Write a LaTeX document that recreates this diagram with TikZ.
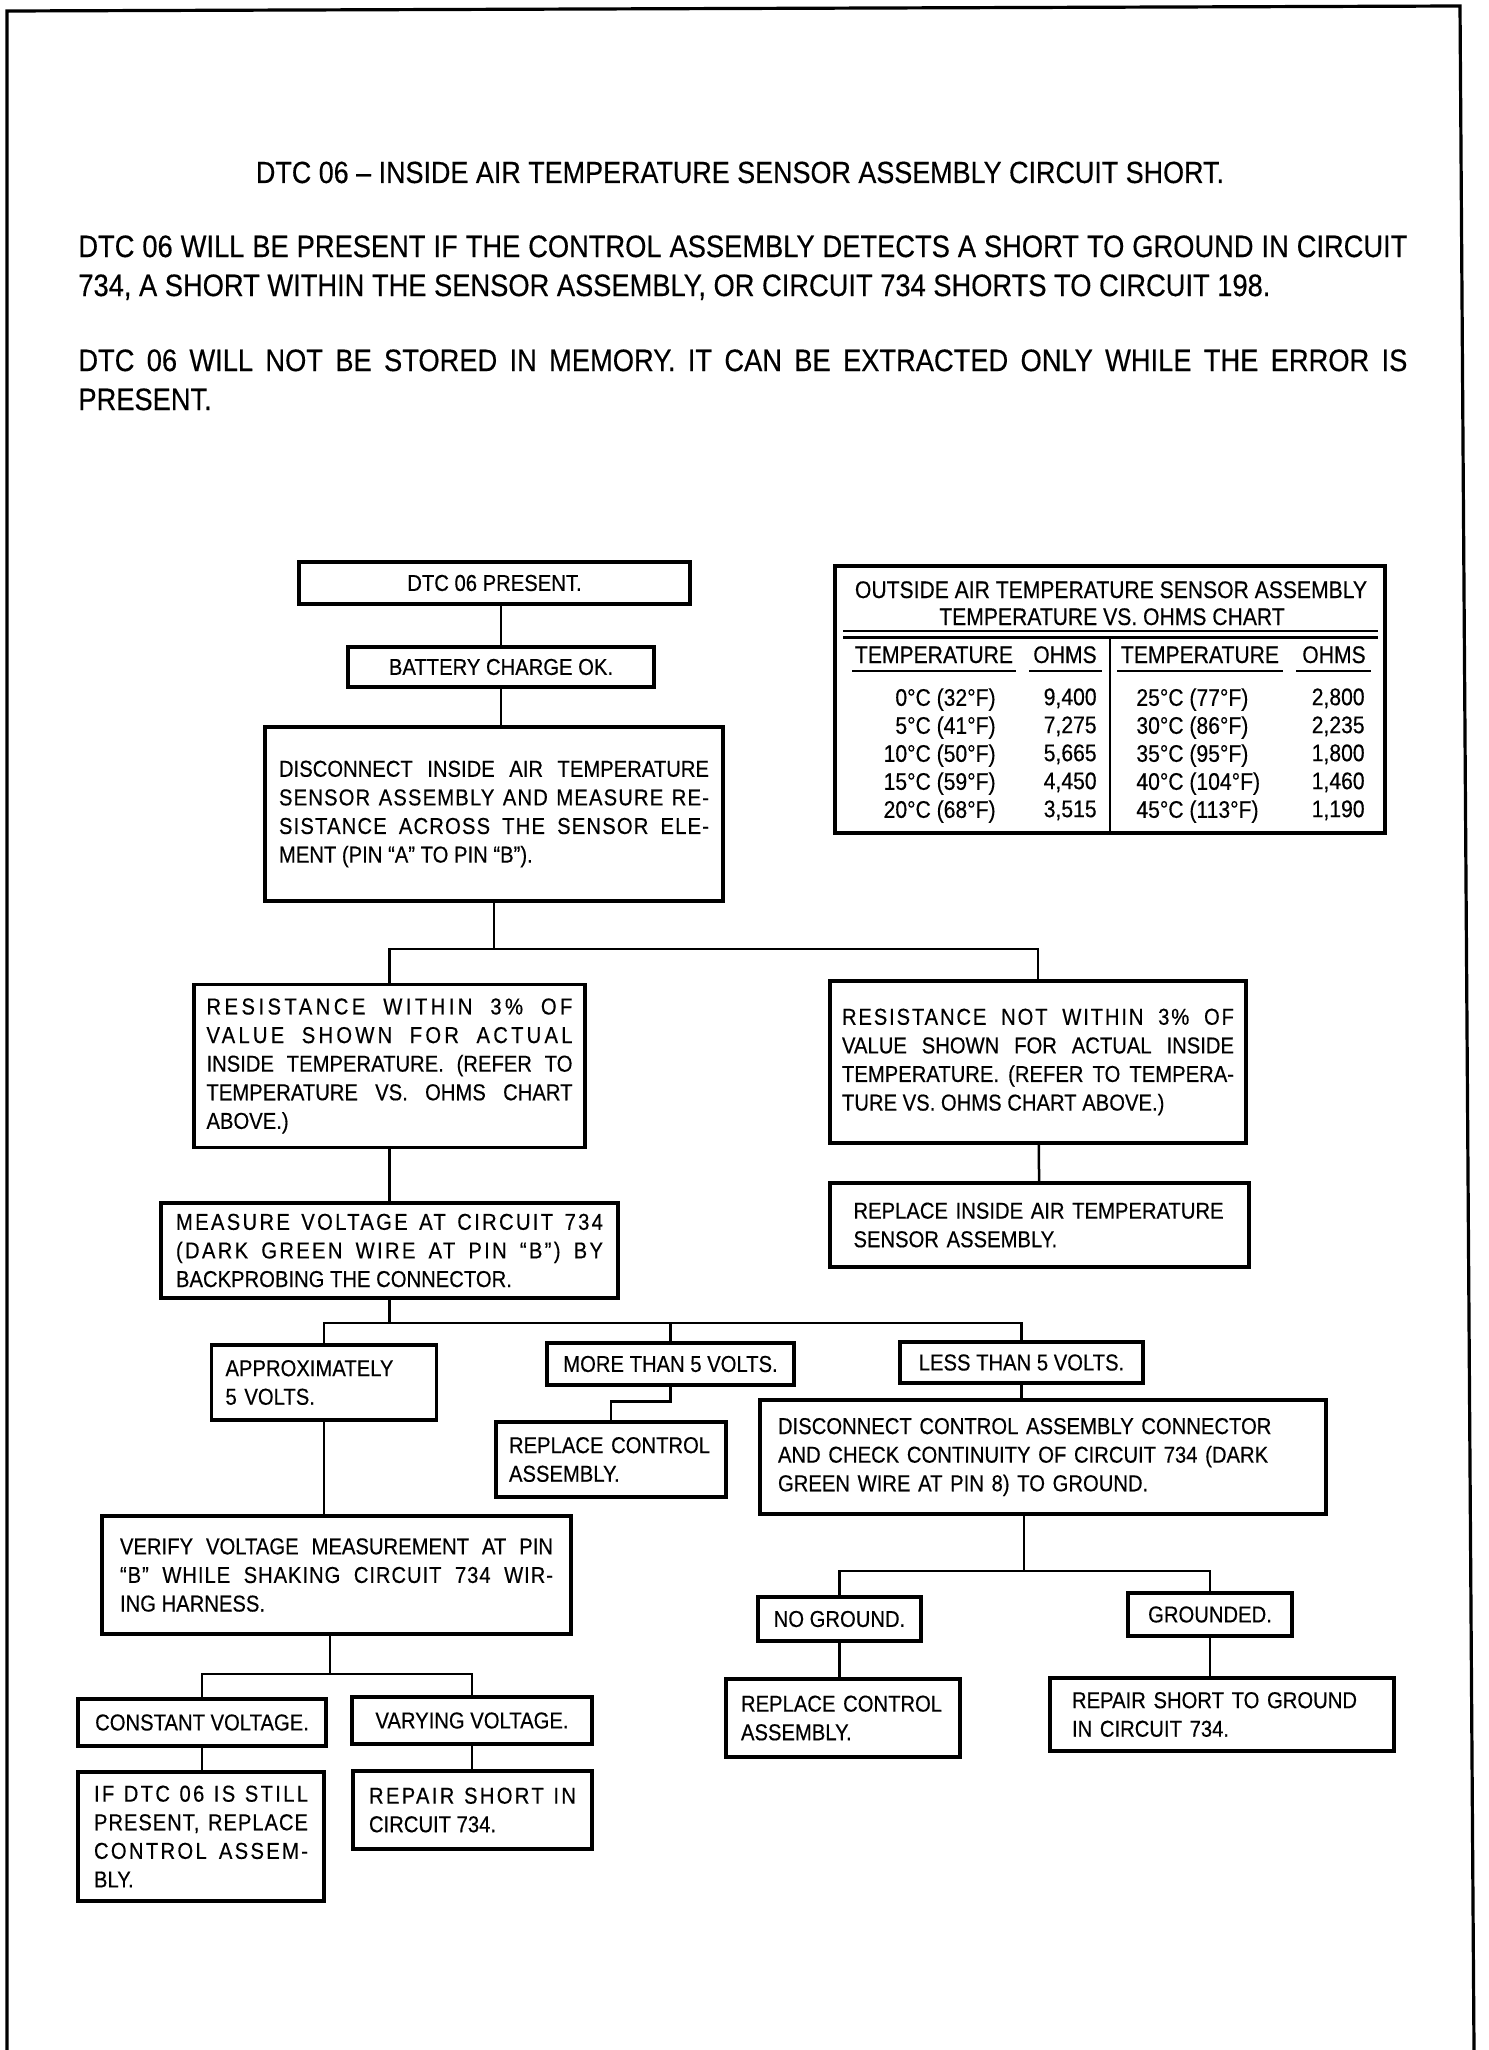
\documentclass[tikz,border=0pt]{standalone}
\usepackage{fontspec}
\setmainfont{Liberation Sans}[FakeStretch=0.88, FakeBold=0.4]
\newcommand\boxfont{\fontsize{11.5}{14.3}\selectfont}
\newcommand\chartfont{\fontsize{12}{14}\selectfont}
\newcommand\headfont{\fontsize{15.5}{19.5}\selectfont}
\newcommand\titlefont{\fontsize{15.3}{19}\selectfont}
\newcommand\spaced[2]{{\addfontfeatures{LetterSpace=#1}#2}}

\tikzset{
	frame/.style={line width=1.6pt},
	box/.style={draw, line width=1.6pt, inner sep=0pt, font=\boxfont},
	link/.style={line width=1.25pt},
	cell/.style={font=\chartfont, inner sep=0pt},
}

\begin{document}
\begin{tikzpicture}[x=0.5pt, y=-0.5pt]
	\useasboundingbox (0,0) rectangle (1488,2050);
	\draw[frame] (7,2050) -- (7,11) -- (1460,6) -- (1474,2050);

	% heading and notes
	\node[font=\titlefont, inner sep=0pt, anchor=base] (title) at (740,183) {DTC 06 -- INSIDE AIR TEMPERATURE SENSOR ASSEMBLY CIRCUIT SHORT.};
	\node[font=\headfont, inner sep=0pt, anchor=north west, text width=664.5pt, align=justify] (note1) at (78,235) {DTC 06 WILL BE PRESENT IF THE CONTROL ASSEMBLY DETECTS A SHORT TO GROUND IN CIRCUIT\linebreak 734, A SHORT WITHIN THE SENSOR ASSEMBLY, OR CIRCUIT 734 SHORTS TO CIRCUIT 198.};
	\node[font=\headfont, inner sep=0pt, anchor=north west, text width=664.5pt, align=justify] (note2) at (78,349) {DTC 06 WILL NOT BE STORED IN MEMORY. IT CAN BE EXTRACTED ONLY WHILE THE ERROR IS\linebreak PRESENT.};

	% chart
	\node[box, minimum width=275pt, minimum height=133.5pt] (chart) at (1110,699.5) {};
	\node[cell, anchor=base] (charttitle) at (1111,598) {OUTSIDE AIR TEMPERATURE SENSOR ASSEMBLY};
	\node[cell, anchor=base] (chartsub) at (1112,625) {TEMPERATURE VS. OHMS CHART};
	\draw[line width=0.6pt] (843,631) -- (1378,631);
	\draw[line width=1.5pt] (843,637) -- (1378,637);
	\draw[line width=1.2pt] (1110,637) -- (1110,833);
	\node[cell, anchor=base] (headTL) at (934,663) {TEMPERATURE};
	\node[cell, anchor=base] (headOL) at (1065,663) {OHMS};
	\node[cell, anchor=base] (headTR) at (1200,663) {TEMPERATURE};
	\node[cell, anchor=base] (headOR) at (1334,663) {OHMS};
	\foreach \a/\b in {852/1016, 1029/1102, 1117/1283, 1296/1371}
		\draw[line width=1pt] (\a,671) -- (\b,671);
	\node[cell, anchor=north east, align=right] (tempL) at (996,688) {0°C (32°F)\\5°C (41°F)\\10°C (50°F)\\15°C (59°F)\\20°C (68°F)};
	\node[cell, anchor=north east, align=right] (ohmsL) at (1097,688) {9,400\\7,275\\5,665\\4,450\\3,515};
	\node[cell, anchor=north west, align=left] (tempR) at (1136,688) {25°C (77°F)\\30°C (86°F)\\35°C (95°F)\\40°C (104°F)\\45°C (113°F)};
	\node[cell, anchor=north east, align=right] (ohmsR) at (1365,688) {2,800\\2,235\\1,800\\1,460\\1,190};

	% flow chart
	\node[box, minimum width=195.5pt, minimum height=21pt] (present) at (494.5,583) {DTC 06 PRESENT.};
	\node[box, minimum width=153pt, minimum height=20pt] (battery) at (501,667) {BATTERY CHARGE OK.};
	\node[box, minimum width=229pt, minimum height=87pt, text width=215pt, align=justify] (disc1) at (494,814) {DISCONNECT INSIDE AIR TEMPERATURE\linebreak \spaced{5}{SENSOR ASSEMBLY AND MEASURE RE-}\linebreak \spaced{5}{SISTANCE ACROSS THE SENSOR ELE-}\linebreak MENT (PIN ``A'' TO PIN ``B'').};
	\node[box, minimum width=195.5pt, minimum height=81.5pt, text width=183pt, align=justify] (within) at (389.5,1066) {\spaced{15}{RESISTANCE WITHIN 3\% OF}\linebreak \spaced{14}{VALUE SHOWN FOR ACTUAL}\linebreak INSIDE TEMPERATURE. (REFER TO\linebreak TEMPERATURE VS. OHMS CHART\linebreak ABOVE.)};
	\node[box, minimum width=208pt, minimum height=81pt, text width=196pt, align=justify] (notwithin) at (1038,1062) {\spaced{8}{RESISTANCE NOT WITHIN 3\% OF}\linebreak VALUE SHOWN FOR ACTUAL INSIDE\linebreak TEMPERATURE. (REFER TO TEMPERA-\linebreak TURE VS. OHMS CHART ABOVE.)};
	\node[box, minimum width=209.5pt, minimum height=42pt, text width=186pt, align=left] (replinside) at (1039.5,1225) {REPLACE INSIDE AIR TEMPERATURE\\SENSOR ASSEMBLY.};
	\node[box, minimum width=228.5pt, minimum height=47.5pt, text width=213.5pt, align=justify] (measure) at (389.5,1250.5) {\spaced{10}{MEASURE VOLTAGE AT CIRCUIT 734}\linebreak \spaced{10}{(DARK GREEN WIRE AT PIN ``B'') BY}\linebreak BACKPROBING THE CONNECTOR.};
	\node[box, minimum width=112.5pt, minimum height=37.5pt, text width=98.5pt, align=left] (approx) at (324,1382.5) {APPROXIMATELY\\5 VOLTS.};
	\node[box, minimum width=123.5pt, minimum height=21pt] (more) at (670.5,1364) {MORE THAN 5 VOLTS.};
	\node[box, minimum width=121.5pt, minimum height=20.5pt] (less) at (1021.5,1362.5) {LESS THAN 5 VOLTS.};
	\node[box, minimum width=115pt, minimum height=37.5pt, text width=102pt, align=left] (replace1) at (611,1459.5) {REPLACE CONTROL\\ASSEMBLY.};
	\node[box, minimum width=283pt, minimum height=57pt, text width=265pt, align=left] (disc2) at (1043,1457) {DISCONNECT CONTROL ASSEMBLY CONNECTOR\\AND CHECK CONTINUITY OF CIRCUIT 734 (DARK\\GREEN WIRE AT PIN 8) TO GROUND.};
	\node[box, minimum width=234.5pt, minimum height=59pt, text width=216.5pt, align=justify] (verify) at (336.5,1575) {VERIFY VOLTAGE MEASUREMENT AT PIN\linebreak \spaced{4}{``B'' WHILE SHAKING CIRCUIT 734 WIR-}\linebreak ING HARNESS.};
	\node[box, minimum width=81.5pt, minimum height=22pt] (noground) at (839.5,1619) {NO GROUND.};
	\node[box, minimum width=82pt, minimum height=21.5pt] (grounded) at (1210,1614.5) {GROUNDED.};
	\node[box, minimum width=117pt, minimum height=39pt, text width=102pt, align=left] (replace2) at (843,1718) {REPLACE CONTROL\\ASSEMBLY.};
	\node[box, minimum width=172pt, minimum height=36.5pt, text width=150pt, align=left] (repairgnd) at (1222,1714.5) {REPAIR SHORT TO GROUND\\IN CIRCUIT 734.};
	\node[box, minimum width=124pt, minimum height=23.5pt] (constant) at (202,1722.5) {CONSTANT VOLTAGE.};
	\node[box, minimum width=120pt, minimum height=23.5pt] (varying) at (472,1720.5) {VARYING VOLTAGE.};
	\node[box, minimum width=123pt, minimum height=64.5pt, text width=107pt, align=justify] (ifdtc) at (201,1836.5) {\spaced{10}{IF DTC 06 IS STILL}\linebreak \spaced{4}{PRESENT, REPLACE}\linebreak \spaced{10}{CONTROL ASSEM-}\linebreak BLY.};
	\node[box, minimum width=119.5pt, minimum height=39pt, text width=103.5pt, align=justify] (repairin) at (472.5,1810) {\spaced{10}{REPAIR SHORT IN}\linebreak CIRCUIT 734.};

	% connectors
	\coordinate (split1) at (494,949);
	\coordinate (split2) at (389.5,1323);
	\coordinate (split3) at (1024,1571);
	\coordinate (split4) at (330,1674);
	\draw[link] (battery.north) -- (battery.north |- present.south);
	\draw[link] (battery.south) -- (battery.south |- disc1.north);
	\draw[link] (disc1.south) -- (split1) -| (within.north);
	\draw[link] (split1) -| (notwithin.north);
	\draw[link] (notwithin) -- (replinside);
	\draw[link] (within) -- (measure);
	\draw[link] (measure.south) -- (split2) -| (approx.north);
	\draw[link] (split2) -| (more.north);
	\draw[link] (split2) -| (less.north);
	\draw[link] (more.south) -- ++(0,15) -| (replace1.north);
	\draw[link] (less.south) -- (less.south |- disc2.north);
	\draw[link] (approx.south) -- (approx.south |- verify.north);
	\draw[link] (split3 |- disc2.south) -- (split3);
	\draw[link] (noground.north) |- (split3) -| (grounded.north);
	\draw[link] (noground.south) -- (noground.south |- replace2.north);
	\draw[link] (grounded.south) -- (grounded.south |- repairgnd.north);
	\draw[link] (split4 |- verify.south) -- (split4);
	\draw[link] (constant.north) |- (split4) -| (varying.north);
	\draw[link] (constant.south) -- (constant.south |- ifdtc.north);
	\draw[link] (varying.south) -- (varying.south |- repairin.north);
\end{tikzpicture}
\end{document}
